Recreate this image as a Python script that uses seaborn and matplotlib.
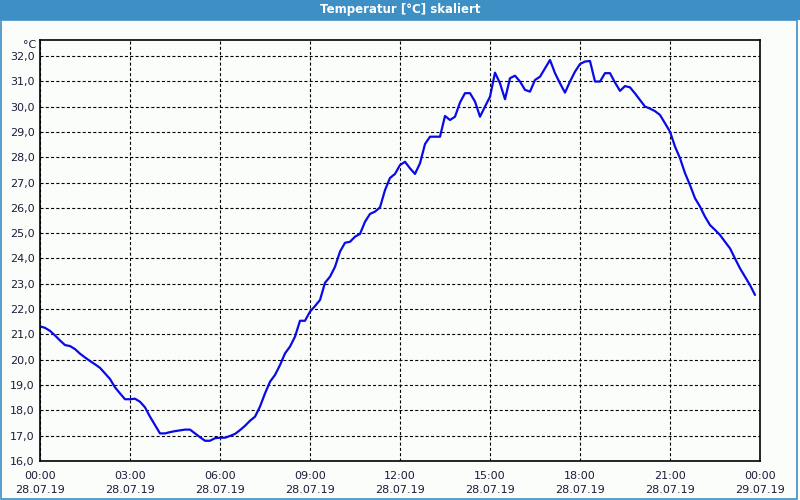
import numpy as np
import pandas as pd
import matplotlib
matplotlib.use("Agg")
import matplotlib.pyplot as plt
import matplotlib.dates as mdates
from matplotlib.patches import Rectangle
import seaborn as sns

# ---- data (10-minute samples, 28.07.19 00:00 .. 23:50) ----
start_time = "2019-07-28 00:00"
temperature = [
    21.32, 21.26, 21.14, 20.96, 20.76, 20.58, 20.54, 20.42, 20.24, 20.09, 19.95, 19.82,
    19.68, 19.46, 19.24, 18.91, 18.67, 18.44, 18.44, 18.46, 18.34, 18.12, 17.75, 17.42,
    17.09, 17.09, 17.14, 17.18, 17.21, 17.24, 17.24, 17.09, 16.94, 16.80, 16.80, 16.90,
    16.92, 16.92, 16.99, 17.07, 17.22, 17.39, 17.59, 17.75, 18.15, 18.67, 19.13, 19.40,
    19.79, 20.25, 20.52, 20.91, 21.54, 21.54, 21.90, 22.12, 22.36, 23.04, 23.28, 23.67,
    24.27, 24.62, 24.66, 24.86, 24.97, 25.45, 25.76, 25.85, 26.02, 26.70, 27.18, 27.34,
    27.69, 27.82, 27.56, 27.34, 27.76, 28.52, 28.81, 28.81, 28.81, 29.63, 29.47, 29.60,
    30.16, 30.53, 30.53, 30.20, 29.60, 30.00, 30.39, 31.34, 30.92, 30.29, 31.12, 31.22,
    30.99, 30.66, 30.59, 31.05, 31.18, 31.51, 31.84, 31.32, 30.92, 30.55, 30.99, 31.38,
    31.68, 31.78, 31.80, 30.99, 30.99, 31.32, 31.32, 30.95, 30.62, 30.81, 30.76, 30.52,
    30.26, 30.00, 29.92, 29.82, 29.67, 29.34, 29.01, 28.42, 27.96, 27.37, 26.90, 26.38,
    26.05, 25.65, 25.32, 25.13, 24.93, 24.66, 24.40, 24.00, 23.61, 23.28, 22.95, 22.56,
]
y_ticks = [16, 17, 18, 19, 20, 21, 22, 23, 24, 25, 26, 27, 28, 29, 30, 31, 32]
title = "Temperatur [°C] skaliert"
unit = "°C"

times = pd.date_range(start_time, periods=len(temperature), freq="10min")
df = pd.DataFrame({"time": times, "temp": temperature})

sns.set_style("white")
plt.rcParams["font.family"] = ["DejaVu Sans"]
plt.rcParams["lines.scale_dashes"] = False

BG = "#fbfdfb"
TXT = "#1c1c3a"
fig = plt.figure(figsize=(8, 5), dpi=100, facecolor=BG)
ax = fig.add_axes([40 / 800, 39 / 500, 720 / 800, 421 / 500])
ax.set_facecolor(BG)

sns.lineplot(data=df, x="time", y="temp", ax=ax, color="#0a0ae6", linewidth=1.6)

ax.set_xlim(pd.Timestamp("2019-07-28 00:00"), pd.Timestamp("2019-07-29 00:00"))
ax.set_ylim(16, 32.63)
ax.set_yticks(y_ticks)
ax.set_yticklabels([f"{v:.1f}".replace(".", ",") for v in y_ticks])
ax.xaxis.set_major_locator(mdates.HourLocator(byhour=range(0, 24, 3)))
ax.xaxis.set_minor_locator(mdates.HourLocator())
ax.xaxis.set_major_formatter(mdates.DateFormatter("%H:%M\n%d.%m.%y"))
ax.set_xlabel("")
ax.set_ylabel("")

ax.grid(True, which="major", color="black", linewidth=0.8, linestyle=(0, (2.2, 1.6)))
for s in ax.spines.values():
    s.set_color("black")
    s.set_linewidth(1.2)

ax.tick_params(axis="x", which="both", direction="out", length=4, width=0.8,
               color="black", labelsize=8, labelcolor=TXT, pad=3)
ax.tick_params(axis="y", which="both", length=0, labelsize=8, labelcolor=TXT, pad=4)
for lbl in ax.get_xticklabels():
    lbl.set_linespacing(1.55)

# unit label
fig.text(36 / 800, 1 - 45 / 500, unit, ha="right", va="center", fontsize=8, color=TXT)

# title bar
fig.patches.append(Rectangle((0, 1 - 20 / 500), 1, 20 / 500, transform=fig.transFigure,
                             facecolor="#3d8fc4", edgecolor="none", zorder=0))
fig.text(0.5, 1 - 10 / 500, title, ha="center", va="center", fontsize=8.5,
         fontweight="bold", color="white")
# outer border
fig.patches.append(Rectangle((0.5 / 800, 1.5 / 500), 796.5 / 800, 478.5 / 500,
                             transform=fig.transFigure, facecolor="none",
                             edgecolor="#3d8fc4", linewidth=1.2, zorder=0))

fig.savefig("out.png", dpi=100, facecolor=BG)
